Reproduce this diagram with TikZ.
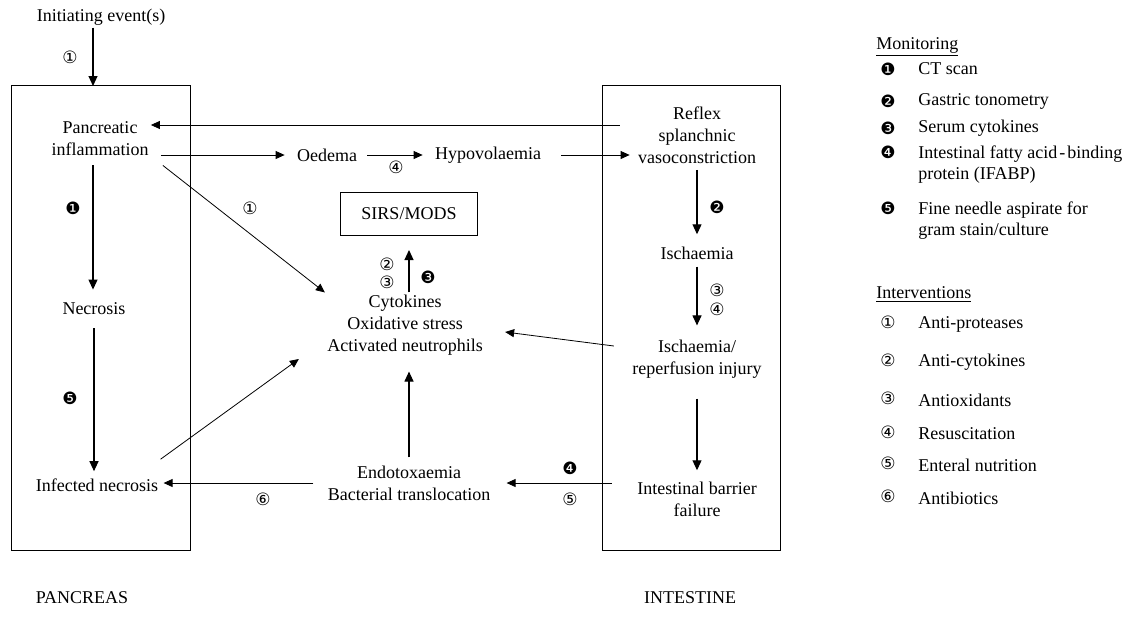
\documentclass[tikz,border=0pt]{standalone}
\usepackage{fontspec}
\setmainfont{Liberation Serif}
\newfontfamily\symfont{DejaVu Sans}
\usetikzlibrary{arrows.meta}
\begin{document}
\begin{tikzpicture}[x=0.5pt,y=-0.5pt,
  txt/.style={align=center, inner sep=1pt, font=\fontsize{9}{11}\selectfont},
  lgd/.style={anchor=west, align=left, inner sep=0pt, font=\fontsize{9}{10.5}\selectfont},
  num/.style={inner sep=0pt, font=\symfont\fontsize{8.5}{9}\selectfont},
  arr/.style={-{Triangle[length=5pt,width=4.5pt]}, line width=0.55pt},
  tarr/.style={-{Triangle[length=4.5pt,width=4pt]}, line width=0.4pt}]
\useasboundingbox (0,0) rectangle (1144,621);
\draw[line width=0.5pt] (11,85) rectangle (190,550);
\draw[line width=0.5pt] (602,85) rectangle (780,550);
\coordinate (lboxtop) at (93,86);
\node[txt] (init) at (101,17) {Initiating event(s)};
\node[txt] (panc) at (100,139) {Pancreatic\\inflammation};
\node[txt] (necr) at (94,309) {Necrosis};
\node[txt] (infn) at (97,485) {Infected necrosis};
\node[txt] (oed) at (327,155) {Oedema};
\node[txt] (hypo) at (488,155) {Hypovolaemia};
\node[txt] (reflex) at (697,135) {Reflex\\splanchnic\\vasoconstriction};
\node[txt] (isch) at (697,253) {Ischaemia};
\node[txt] (isre) at (697,359) {Ischaemia/\\reperfusion injury};
\node[txt] (ibf) at (697,499) {Intestinal barrier\\failure};
\node[txt, draw, line width=0.5pt, minimum width=68.5pt, minimum height=21.5pt] (sirs) at (409,214) {SIRS/MODS};
\node[txt] (cyto) at (405,325) {Cytokines\\Oxidative stress\\Activated neutrophils};
\node[txt] (endo) at (409,483) {Endotoxaemia\\Bacterial translocation};
\node[txt] (pancreas) at (82,598) {PANCREAS};
\node[txt] (intestine) at (690,598) {INTESTINE};
\draw[arr] (init.south -| lboxtop) -- (lboxtop);
\draw[tarr] ([yshift=5pt,xshift=-8pt]reflex.west) -- ([yshift=7pt]panc.east);
\draw[tarr] ([xshift=5pt]panc.east |- oed.west) -- ([xshift=-5pt]oed.west);
\draw[tarr] ([xshift=4pt]oed.east) -- ([xshift=-5pt]hypo.west);
\draw[tarr] ([xshift=9pt]hypo.east) -- ([xshift=-3pt]reflex.west |- hypo.east);
\draw[arr, shorten <=2pt, shorten >=5pt] (reflex.south) -- (isch.north);
\draw[arr, shorten <=2.5pt, shorten >=6pt] (isch.south) -- (isre.north);
\draw[tarr] ([xshift=-8pt,yshift=6.5pt]isre.west) -- ([xshift=10pt,yshift=-3.5pt]cyto.east);
\draw[arr, shorten <=9pt, shorten >=4.5pt] (isre.south) -- (ibf.north);
\draw[tarr] ([xshift=-11.5pt]ibf.west |- endo.east) -- ([xshift=7pt]endo.east);
\draw[tarr] ([xshift=-6pt]endo.west) -- ([xshift=1.5pt]infn.east |- endo.west);
\draw[arr, shorten <=3pt, shorten >=7pt] (endo.north) -- (endo.north |- cyto.south);
\draw[tarr] ([yshift=8.5pt]infn.north east) -- ([xshift=-13pt,yshift=-17pt]cyto.west);
\draw[tarr] ([xshift=6pt,yshift=-3.5pt]panc.south east) -- (cyto.north west);
\draw[arr, shorten >=7pt] (sirs.south |- cyto.north) -- (sirs.south);
\draw[arr, shorten <=3.5pt, shorten >=5.5pt] ([xshift=-3.5pt]panc.south) -- ([xshift=-3.5pt]panc.south |- necr.north);
\draw[arr, shorten <=5.5pt, shorten >=2.5pt] (necr.south) -- (necr.south |- infn.north);
\node[num] (n1a) at (70,57) {①};
\node[num] (m1) at (73,208) {❶};
\node[num] (n1b) at (250,208) {①};
\node[num] (n4a) at (396,167) {④};
\node[num] (n2a) at (387,264) {②};
\node[num] (n3a) at (387,282) {③};
\node[num] (m3) at (428,277) {❸};
\node[num] (m2) at (717,207) {❷};
\node[num] (n3b) at (717,290) {③};
\node[num] (n4b) at (717,309) {④};
\node[num] (m5) at (70,398) {❺};
\node[num] (m4) at (570,468) {❹};
\node[num] (n5a) at (570,499) {⑤};
\node[num] (n6a) at (263,499) {⑥};
\node[lgd] (mon) at (876,47) {\underline{Monitoring}};
\node[num] (lm1) at (888,69) {❶};
\node[lgd] (tm1) at (918,69) {CT scan};
\node[num] (lm2) at (888,101) {❷};
\node[lgd] (tm2) at (918,101) {Gastric tonometry};
\node[num] (lm3) at (888,128) {❸};
\node[lgd] (tm3) at (918,128) {Serum cytokines};
\node[num] (lm4) at (888,152) {❹};
\node[lgd, anchor=north west] (tm4) at (918,145) {Intestinal fatty acid\kern1pt-\kern1pt binding\\protein (IFABP)};
\node[num] (lm5) at (888,208) {❺};
\node[lgd, anchor=north west] (tm5) at (918,201) {Fine needle aspirate for\\gram stain/culture};
\node[lgd] (itv) at (876,295) {\underline{Interventions}};
\node[num] (li1) at (888,322) {①};
\node[lgd] (ti1) at (918,324) {Anti-proteases};
\node[num] (li2) at (888,360) {②};
\node[lgd] (ti2) at (918,362) {Anti-cytokines};
\node[num] (li3) at (888,398) {③};
\node[lgd] (ti3) at (918,400) {Antioxidants};
\node[num] (li4) at (888,432) {④};
\node[lgd] (ti4) at (918,434) {Resuscitation};
\node[num] (li5) at (888,463) {⑤};
\node[lgd] (ti5) at (918,465) {Enteral nutrition};
\node[num] (li6) at (888,496) {⑥};
\node[lgd] (ti6) at (918,498) {Antibiotics};
\end{tikzpicture}
\end{document}
